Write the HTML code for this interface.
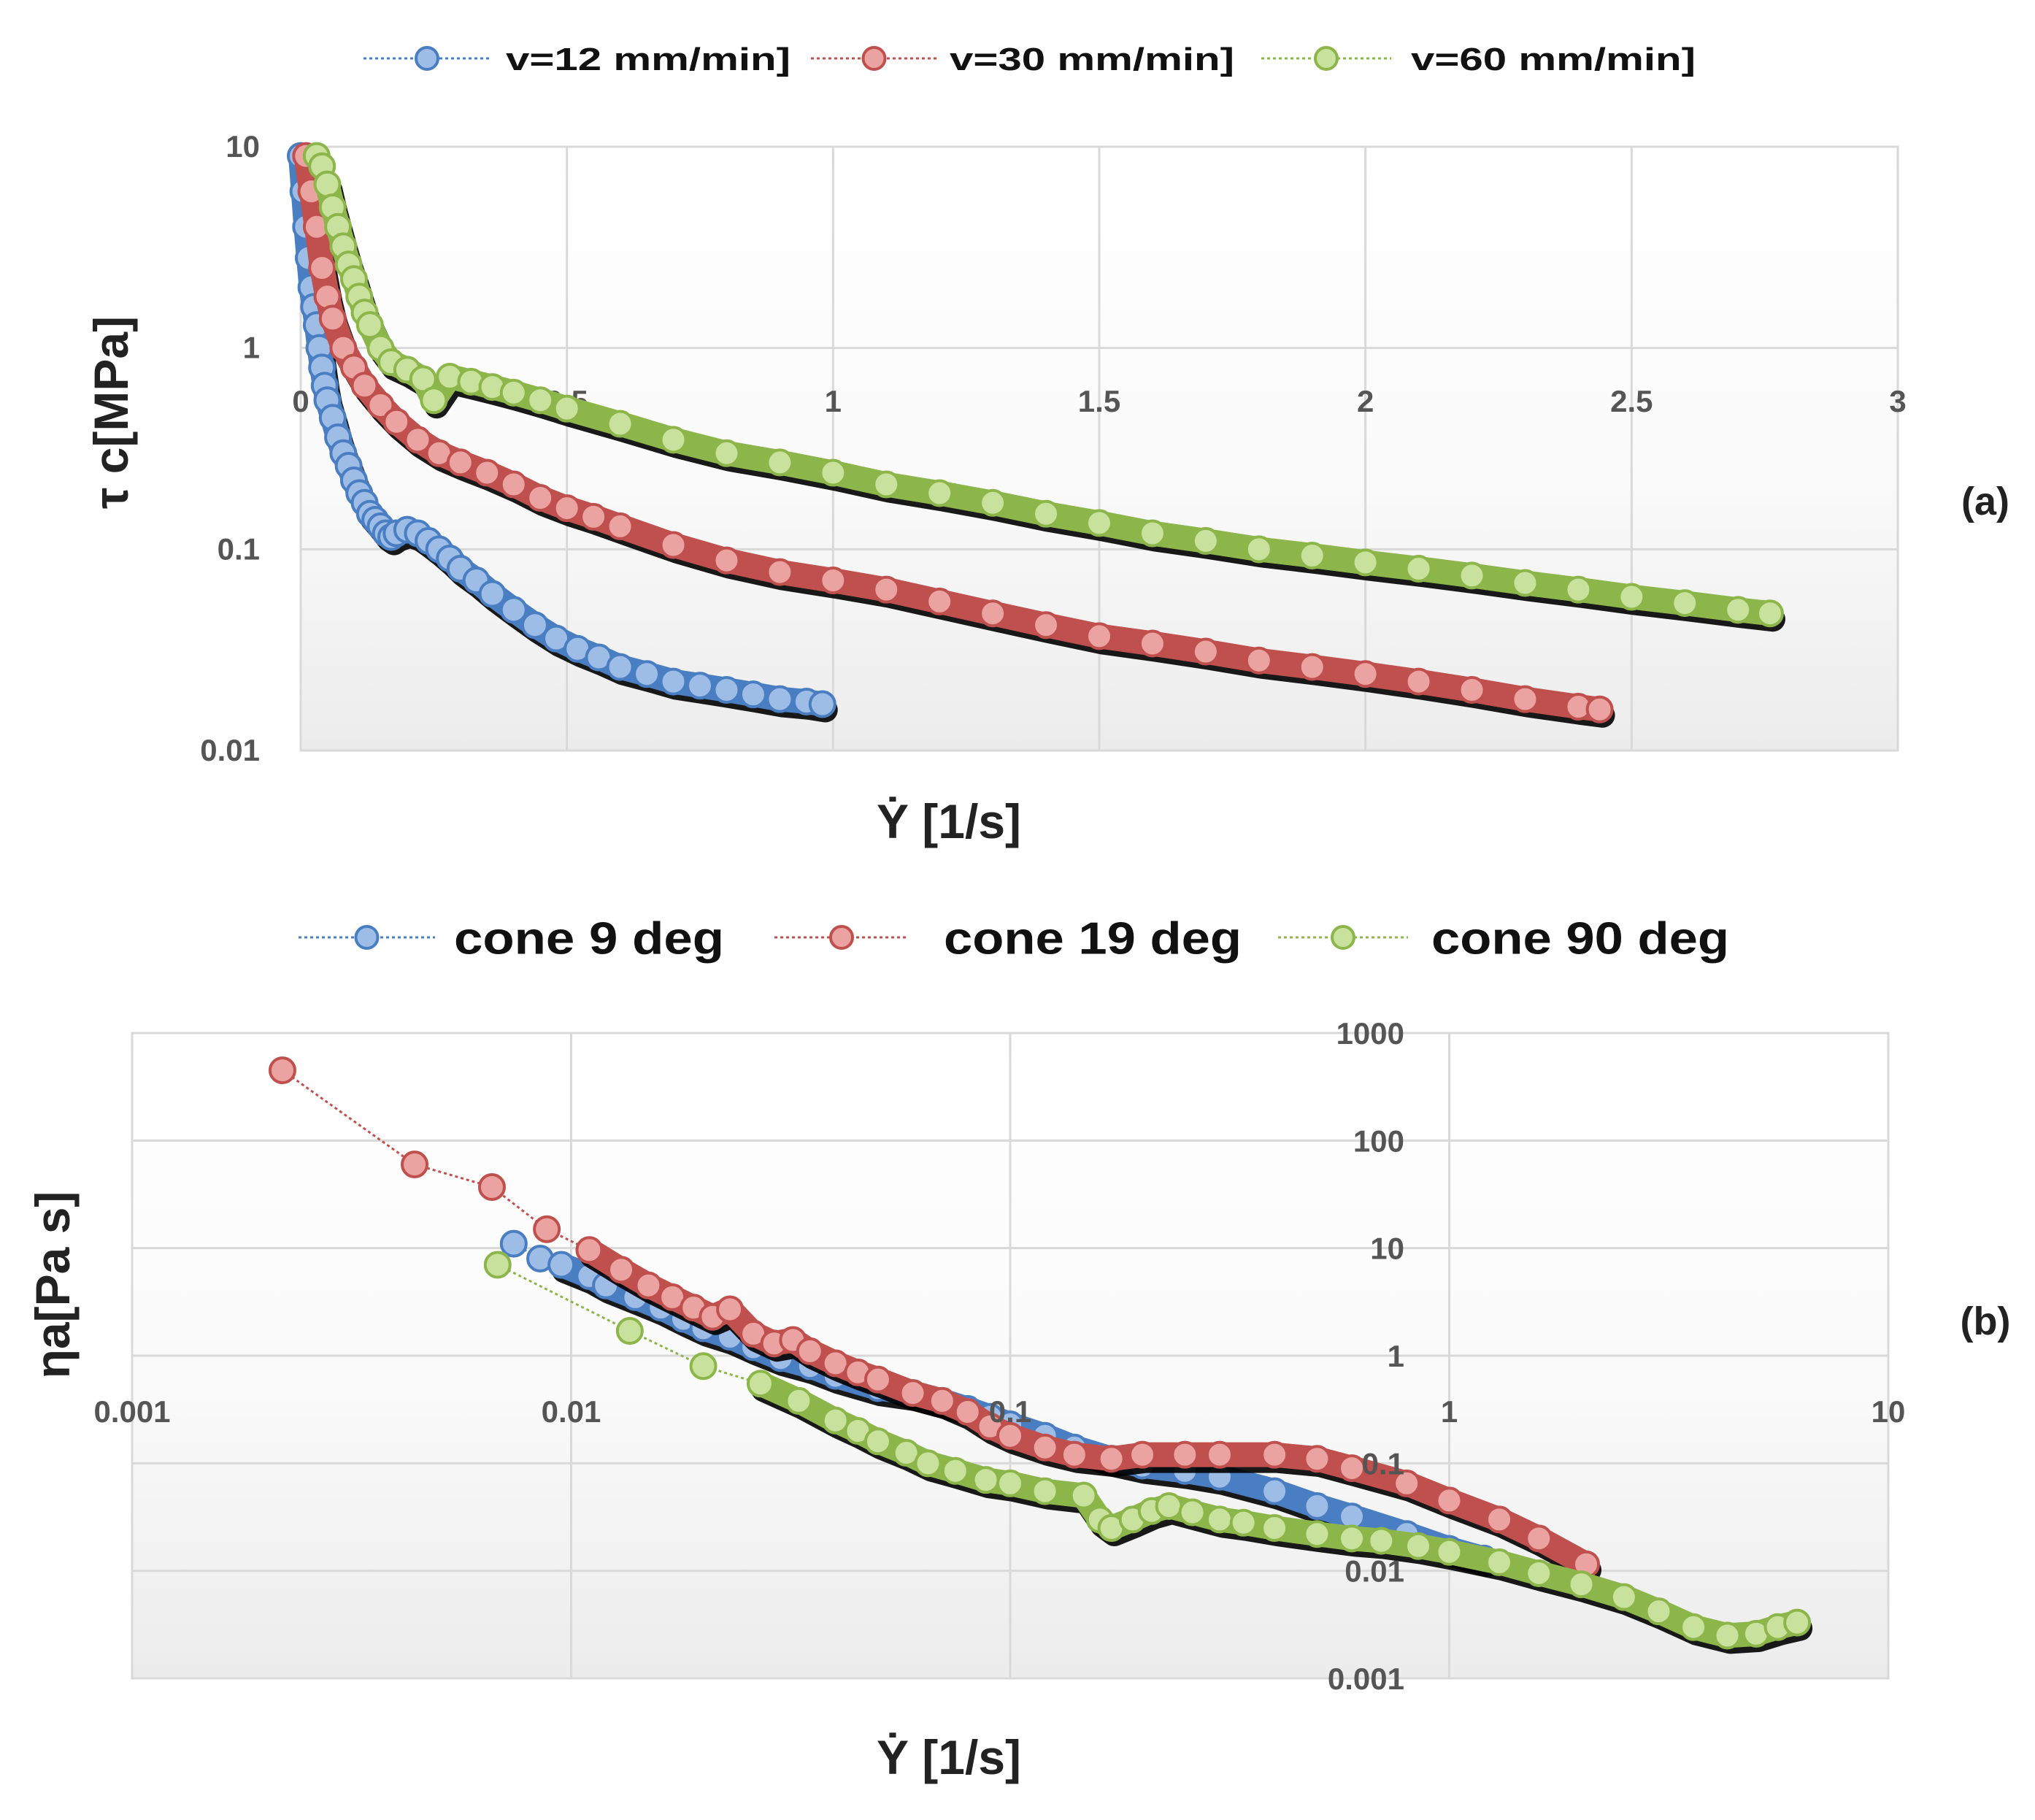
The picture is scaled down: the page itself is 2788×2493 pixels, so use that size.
<!DOCTYPE html>
<html><head><meta charset="utf-8"><style>
html,body{margin:0;padding:0;background:#fff}
svg{display:block}
text{font-family:"Liberation Sans",sans-serif}
</style></head><body>
<svg id="c" width="2788" height="2493" viewBox="0 0 2788 2493" xmlns="http://www.w3.org/2000/svg">
<defs>
<linearGradient id="bg" x1="0" y1="0" x2="0" y2="1"><stop offset="0" stop-color="#ffffff"/><stop offset="0.55" stop-color="#fafafa"/><stop offset="1" stop-color="#ececec"/></linearGradient>
</defs>
</svg>
<script>
// ---- chart (a) data ----
const aXTicks=[0,0.5,1,1.5,2,2.5,3];
const aYTicks=[0.01,0.1,1,10];
const aYLabels=["0.01","0.1","1","10"];
const a12x=[0,0.005,0.01,0.015,0.02,0.025,0.03,0.035,0.04,0.045,0.05,0.06,0.07,0.08,0.09,0.10,0.11,0.12,0.13,0.14,0.15,0.16,0.17,0.18,0.2,0.22,0.24,0.26,0.28,0.30,0.33,0.36,0.40,0.44,0.48,0.52,0.56,0.60,0.65,0.70,0.75,0.80,0.85,0.90,0.95,0.98];
const a12y=[9,6,4,2.8,2,1.6,1.3,1.0,0.8,0.65,0.55,0.45,0.36,0.3,0.26,0.22,0.19,0.17,0.15,0.14,0.13,0.12,0.115,0.12,0.125,0.12,0.11,0.1,0.09,0.08,0.07,0.06,0.05,0.042,0.036,0.032,0.029,0.026,0.024,0.022,0.021,0.02,0.019,0.018,0.0175,0.017];
const a30x=[0.01,0.02,0.03,0.04,0.05,0.06,0.08,0.10,0.12,0.15,0.18,0.22,0.26,0.3,0.35,0.4,0.45,0.5,0.55,0.6,0.7,0.8,0.9,1.0,1.1,1.2,1.3,1.4,1.5,1.6,1.7,1.8,1.9,2.0,2.1,2.2,2.3,2.4,2.44];
const a30y=[9,6,4,2.5,1.8,1.4,1.0,0.8,0.65,0.52,0.43,0.35,0.3,0.27,0.24,0.21,0.18,0.16,0.145,0.13,0.105,0.088,0.077,0.07,0.063,0.055,0.048,0.042,0.037,0.034,0.031,0.028,0.026,0.024,0.022,0.02,0.018,0.0165,0.016];
const a60x=[0.03,0.04,0.05,0.06,0.07,0.08,0.09,0.10,0.11,0.12,0.13,0.15,0.17,0.2,0.23,0.25,0.28,0.32,0.36,0.4,0.45,0.5,0.6,0.7,0.8,0.9,1.0,1.1,1.2,1.3,1.4,1.5,1.6,1.7,1.8,1.9,2.0,2.1,2.2,2.3,2.4,2.5,2.6,2.7,2.76];
const a60y=[9,8,6.5,5,4,3.2,2.6,2.2,1.8,1.5,1.3,1.0,0.85,0.78,0.7,0.55,0.72,0.68,0.64,0.6,0.55,0.5,0.42,0.35,0.3,0.27,0.24,0.21,0.19,0.17,0.15,0.135,0.12,0.11,0.1,0.093,0.086,0.08,0.074,0.068,0.063,0.058,0.054,0.05,0.048];
// ---- chart (b) data ----
const bXTicks=[0.001,0.01,0.1,1,10];
const bXLabels=["0.001","0.01","0.1","1","10"];
const bYTicks=[0.001,0.01,0.1,1,10,100,1000];
const bYLabels=["0.001","0.01","0.1","1","10","100","1000"];
const b9x=[0.0074,0.0085,0.0095,0.011,0.012,0.014,0.016,0.018,0.02,0.023,0.026,0.03,0.035,0.04,0.05,0.06,0.07,0.08,0.09,0.1,0.12,0.14,0.17,0.2,0.25,0.3,0.4,0.5,0.6,0.8,1.0,1.2];
const b9y=[11,8,7,5.5,4.5,3.5,2.8,2.2,1.8,1.5,1.2,0.95,0.8,0.65,0.5,0.45,0.38,0.32,0.27,0.23,0.18,0.14,0.11,0.095,0.085,0.075,0.055,0.04,0.032,0.022,0.016,0.013];
const b19x=[0.0022,0.0044,0.0066,0.0088,0.011,0.013,0.015,0.017,0.019,0.021,0.023,0.026,0.029,0.032,0.035,0.04,0.045,0.05,0.06,0.07,0.08,0.09,0.1,0.12,0.14,0.17,0.2,0.25,0.3,0.4,0.5,0.6,0.8,1.0,1.3,1.6,2.05];
const b19y=[450,60,37,15,9.6,6.3,4.5,3.5,2.8,2.3,2.7,1.6,1.3,1.4,1.1,0.85,0.7,0.6,0.45,0.38,0.3,0.22,0.18,0.14,0.12,0.11,0.12,0.12,0.12,0.12,0.11,0.09,0.065,0.045,0.03,0.02,0.0115];
const b90x=[0.0068,0.0136,0.02,0.027,0.033,0.04,0.045,0.05,0.058,0.065,0.075,0.088,0.1,0.12,0.147,0.16,0.17,0.19,0.21,0.23,0.26,0.3,0.34,0.4,0.5,0.6,0.7,0.85,1.0,1.3,1.6,2.0,2.5,3.0,3.6,4.3,5.0,5.6,6.2];
const b90y=[7,1.7,0.8,0.55,0.38,0.25,0.2,0.16,0.125,0.1,0.085,0.07,0.065,0.055,0.05,0.03,0.025,0.03,0.036,0.04,0.035,0.03,0.028,0.025,0.022,0.02,0.019,0.017,0.015,0.012,0.0095,0.0075,0.0057,0.0042,0.003,0.0025,0.0026,0.003,0.0033];

const NS="http://www.w3.org/2000/svg";
const svg=document.getElementById('c');
function mk(tag,attrs,parent){const e=document.createElementNS(NS,tag);for(const k in attrs)e.setAttribute(k,attrs[k]);(parent||svg).appendChild(e);return e;}
const COL={blue:['#4a7ec2','#9dbce6'],red:['#c0504d','#eba3a1'],green:['#8db64a','#c8e19c']};

const A={x0:412,x1:2600,y0:201,y1:1028};
const ax=v=>A.x0+(v/3)*(A.x1-A.x0);
const ay=v=>A.y1-(Math.log10(v)+2)/3*(A.y1-A.y0);
const B={x0:181,x1:2587,y0:1415,y1:2299};
const bx=v=>B.x0+(Math.log10(v)+3)/4*(B.x1-B.x0);
const by=v=>B.y1-(Math.log10(v)+3)/6*(B.y1-B.y0);

function frame(P,name){
  const r=mk('rect',{x:P.x0,y:P.y0,width:P.x1-P.x0,height:P.y1-P.y0,fill:'url(#bg)',stroke:'#d9d9d9','stroke-width':3});
  
  
}
function series(xs,ys,fx,fy,col,name,r,bandStart){
  const g=mk('g',{});
  
  
  const all=xs.map((x,i)=>fx(x)+','+fy(ys[i]));
  const thin=mk('polyline',{points:all.slice(0,bandStart+1).join(' '),fill:'none',stroke:COL[col][0],'stroke-width':3,'stroke-dasharray':'4 4'},g);
  
  
  const pts=all.slice(bandStart).join(' ');
  const sh=mk('polyline',{points:pts,fill:'none',stroke:'#000','stroke-width':2*r,'stroke-linejoin':'round','stroke-linecap':'round',transform:'translate(4,8)',opacity:0.9},g);
  
  
  const ln=mk('polyline',{points:pts,fill:'none',stroke:COL[col][0],'stroke-width':2*r,'stroke-linejoin':'round','stroke-linecap':'round'},g);
  
  
  xs.forEach((x,i)=>{
    const c=mk('circle',{cx:fx(x),cy:fy(ys[i]),r:r,fill:COL[col][1],stroke:COL[col][0],'stroke-width':4},g);
    
    
  });
}
function txt(s,x,y,size,anchor,name,extra){
  const t=mk('text',Object.assign({x:x,y:y,'font-size':size,'text-anchor':anchor||'middle',fill:'#222'},extra||{}));
  t.textContent=s;
  
  
  return t;
}
function legend(x1,x2,y,col,label,tx,size,name,tl){
  const g=mk('g',{});
  
  
  mk('line',{x1:x1,x2:x2,y1:y,y2:y,stroke:COL[col][0],'stroke-width':3,'stroke-dasharray':'4 4'},g);
  mk('circle',{cx:(x1+x2)/2,cy:y,r:15,fill:COL[col][1],stroke:COL[col][0],'stroke-width':4},g);
  const t=mk('text',{x:tx,y:y+size*0.36,'font-size':size,'font-weight':'bold',fill:'#111',textLength:tl,lengthAdjust:'spacingAndGlyphs'},g);
  t.textContent=label;
}
const TK={'font-weight':'bold',fill:'#555'};

// ===== chart (a) =====
frame(A,'plot-area-a');
aYTicks.forEach((v,i)=>{
  if(i>0&&i<aYTicks.length-1){const l=mk('line',{x1:A.x0,x2:A.x1,y1:ay(v),y2:ay(v),stroke:'#d9d9d9','stroke-width':3});}
  txt(aYLabels[i],356,ay(v)+14,42,'end','y-tick-a',TK);
});
aXTicks.forEach(v=>{
  if(v>0&&v<3){const l=mk('line',{x1:ax(v),x2:ax(v),y1:A.y0,y2:A.y1,stroke:'#d9d9d9','stroke-width':3});}
  txt(String(v),ax(v),564,42,'middle','x-tick-a',TK);
});
series(a12x,a12y,ax,ay,'blue','series-v12',17,0);
series(a30x,a30y,ax,ay,'red','series-v30',17,0);
series(a60x,a60y,ax,ay,'green','series-v60',17,2);
legend(498,672,80,'blue','v=12 mm/min]',693,44,'legend-v12',390);
legend(1111,1284,80,'red','v=30 mm/min]',1301,44,'legend-v30',390);
legend(1728,1906,80,'green','v=60 mm/min]',1933,44,'legend-v60',390);
txt('(a)',2720,705,54,'middle','panel-label-a',{'font-weight':'bold'});
txt('Ẏ [1/s]',1300,1148,66,'middle','x-axis-title-a',{'font-weight':'bold'});
txt('τ c[MPa]',0,0,66,'middle','y-axis-title-a',{'font-weight':'bold',transform:'translate(175,565) rotate(-90)'});

// ===== chart (b) =====
frame(B,'plot-area-b');
bYTicks.forEach((v,i)=>{
  if(i>0&&i<bYTicks.length-1){const l=mk('line',{x1:B.x0,x2:B.x1,y1:by(v),y2:by(v),stroke:'#d9d9d9','stroke-width':3});}
});
bXTicks.forEach(v=>{
  if(v>0.001&&v<10){const l=mk('line',{x1:bx(v),x2:bx(v),y1:B.y0,y2:B.y1,stroke:'#d9d9d9','stroke-width':3});}
});
series(b9x,b9y,bx,by,'blue','series-cone9',17,2);
series(b19x,b19y,bx,by,'red','series-cone19',17,4);
series(b90x,b90y,bx,by,'green','series-cone90',17,3);
bYTicks.forEach((v,i)=>txt(bYLabels[i],1924,by(v)+15,42,'end','y-tick-b',TK));
bXTicks.forEach((v,i)=>txt(bXLabels[i],bx(v),1948,42,'middle','x-tick-b',TK));
legend(409,596,1284,'blue','cone 9 deg',622,62,'legend-cone9',370);
legend(1061,1245,1284,'red','cone 19 deg',1293,62,'legend-cone19',408);
legend(1751,1929,1284,'green','cone 90 deg',1961,62,'legend-cone90',408);
txt('(b)',2720,1828,54,'middle','panel-label-b',{'font-weight':'bold'});
txt('Ẏ [1/s]',1300,2430,66,'middle','x-axis-title-b',{'font-weight':'bold'});
txt('ηa[Pa s]',0,0,66,'middle','y-axis-title-b',{'font-weight':'bold',transform:'translate(95,1760) rotate(-90)'});
</script>
</body></html>
